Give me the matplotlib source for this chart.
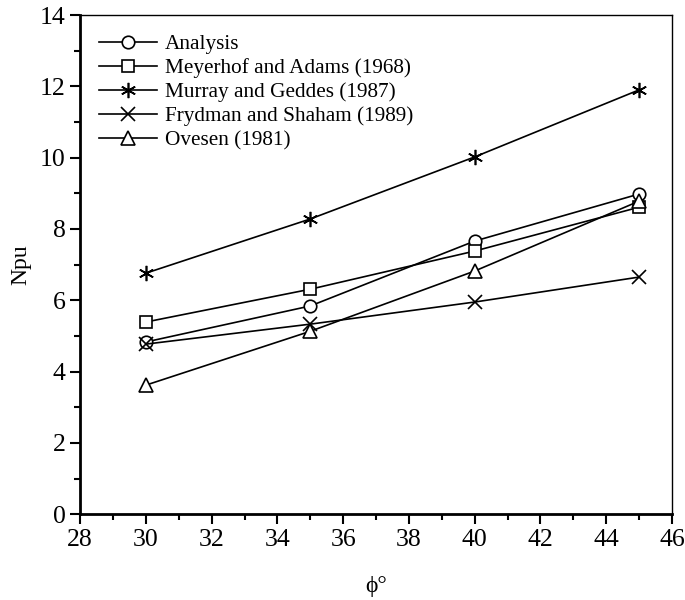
import numpy as np
import matplotlib as mpl
import matplotlib.pyplot as plt

# data
phi = [30, 35, 40, 45]
analysis = [4.83, 5.84, 7.66, 8.98]
meyerhof = [5.39, 6.31, 7.38, 8.61]
murray = [6.76, 8.28, 10.02, 11.90]
frydman = [4.77, 5.33, 5.95, 6.65]
ovesen = [3.62, 5.13, 6.82, 8.78]

labels = ["Analysis", "Meyerhof and Adams (1968)", "Murray and Geddes (1987)",
          "Frydman and Shaham (1989)", "Ovesen (1981)"]
series = [analysis, meyerhof, murray, frydman, ovesen]
markers = ['o', 's', (6, 2, 0), 'x', '^']
msizes = [9, 8.5, 11, 10, 9.5]

mpl.rcParams.update({'font.family': 'serif',
                     'font.serif': ['Liberation Serif', 'DejaVu Serif'],
                     'font.size': 16})

fig = plt.figure(figsize=(6.85, 6.0), dpi=100)
ax = fig.add_axes([0.117, 0.143, 0.864, 0.832])

for ys, m, ms, lab in zip(series, markers, msizes, labels):
    ax.plot(phi, ys, color='k', lw=1.2, marker=m, markersize=ms,
            markerfacecolor='white', markeredgecolor='k',
            markeredgewidth=1.2, label=lab)

ax.set_xlim(28, 46)
ax.set_ylim(0, 14)
ax.set_xticks(np.arange(28, 47, 2))
ax.set_yticks(np.arange(0, 15, 2))
ax.set_xticks(np.arange(29, 46, 2), minor=True)
ax.set_yticks(np.arange(1, 14, 2), minor=True)
ax.tick_params(which='major', direction='out', length=7, width=1.5,
               labelsize=18.5)
ax.tick_params(which='minor', direction='out', length=4, width=1.5)

ax.spines['left'].set_linewidth(2)
ax.spines['bottom'].set_linewidth(2)
ax.spines['top'].set_linewidth(1)
ax.spines['right'].set_linewidth(1)

ax.set_xlabel("ϕ°", fontsize=17, labelpad=18)
ax.set_ylabel("Npu", fontsize=17, labelpad=6)

ax.legend(loc='upper left', frameon=False, handlelength=2.7, fontsize=15.3,
          handletextpad=0.4, labelspacing=0.2, borderaxespad=0.5)

fig.savefig("out.png", dpi=100)
